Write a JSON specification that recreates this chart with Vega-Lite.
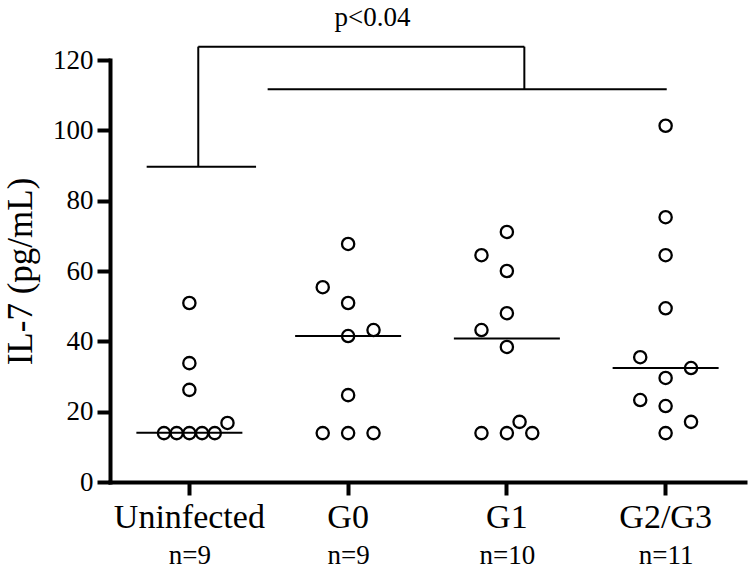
{
  "$schema": "https://vega.github.io/schema/vega-lite/v6.json",
  "width": 635,
  "height": 422,
  "autosize": "none",
  "padding": {"left": 110, "top": 60, "right": 5, "bottom": 87},
  "background": "white",
  "config": {
    "view": {"stroke": null},
    "font": "Liberation Serif",
    "axis": {"grid": false, "labelColor": "black", "titleColor": "black", "domainColor": "black", "tickColor": "black", "labelFont": "Liberation Serif", "titleFont": "Liberation Serif"}
  },
  "datasets": {
    "points": [
      {"group": "Uninfected", "value": 13.9, "slot": -2},
      {"group": "Uninfected", "value": 13.9, "slot": -1},
      {"group": "Uninfected", "value": 13.9, "slot": 0},
      {"group": "Uninfected", "value": 13.9, "slot": 1},
      {"group": "Uninfected", "value": 13.9, "slot": 2},
      {"group": "Uninfected", "value": 16.8, "slot": 3},
      {"group": "Uninfected", "value": 26.2, "slot": 0},
      {"group": "Uninfected", "value": 33.8, "slot": 0},
      {"group": "Uninfected", "value": 50.9, "slot": 0},
      {"group": "G0", "value": 67.7, "slot": 0},
      {"group": "G0", "value": 55.4, "slot": -2},
      {"group": "G0", "value": 50.9, "slot": 0},
      {"group": "G0", "value": 41.5, "slot": 0},
      {"group": "G0", "value": 43.2, "slot": 2},
      {"group": "G0", "value": 24.7, "slot": 0},
      {"group": "G0", "value": 13.9, "slot": -2},
      {"group": "G0", "value": 13.9, "slot": 0},
      {"group": "G0", "value": 13.9, "slot": 2},
      {"group": "G1", "value": 71.1, "slot": 0},
      {"group": "G1", "value": 64.5, "slot": -2},
      {"group": "G1", "value": 60.0, "slot": 0},
      {"group": "G1", "value": 48.0, "slot": 0},
      {"group": "G1", "value": 43.2, "slot": -2},
      {"group": "G1", "value": 38.4, "slot": 0},
      {"group": "G1", "value": 13.9, "slot": -2},
      {"group": "G1", "value": 13.9, "slot": 0},
      {"group": "G1", "value": 13.9, "slot": 2},
      {"group": "G1", "value": 17.1, "slot": 1},
      {"group": "G2/G3", "value": 101.3, "slot": 0},
      {"group": "G2/G3", "value": 75.3, "slot": 0},
      {"group": "G2/G3", "value": 64.5, "slot": 0},
      {"group": "G2/G3", "value": 49.4, "slot": 0},
      {"group": "G2/G3", "value": 35.5, "slot": -2},
      {"group": "G2/G3", "value": 32.4, "slot": 2},
      {"group": "G2/G3", "value": 29.6, "slot": 0},
      {"group": "G2/G3", "value": 23.3, "slot": -2},
      {"group": "G2/G3", "value": 21.6, "slot": 0},
      {"group": "G2/G3", "value": 17.1, "slot": 2},
      {"group": "G2/G3", "value": 13.9, "slot": 0}
    ],
    "medians": [
      {"group": "Uninfected", "median": 14.0},
      {"group": "G0", "median": 41.5},
      {"group": "G1", "median": 40.8},
      {"group": "G2/G3", "median": 32.4}
    ],
    "bracket": [
      {"x1": -0.269, "x2": 0.420, "y1": 89.65, "y2": 89.65},
      {"x1": 0.056, "x2": 0.056, "y1": 89.65, "y2": 123.8},
      {"x1": 0.056, "x2": 2.110, "y1": 123.8, "y2": 123.8},
      {"x1": 2.110, "x2": 2.110, "y1": 111.7, "y2": 123.8},
      {"x1": 0.493, "x2": 3.007, "y1": 111.7, "y2": 111.7}
    ],
    "label": [
      {"x": 1.153, "y": 129.7, "text": "p<0.04"}
    ]
  },
  "layer": [
    {
      "layer": [
        {
          "data": {"name": "medians"},
          "mark": {"type": "tick", "orient": "horizontal", "size": 106, "thickness": 2, "color": "black", "opacity": 1},
          "encoding": {
            "x": {
              "field": "group", "type": "nominal",
              "sort": ["Uninfected", "G0", "G1", "G2/G3"],
              "scale": {"domain": ["Uninfected", "G0", "G1", "G2/G3"], "paddingInner": 0, "paddingOuter": 0},
              "axis": {"title": null, "orient": "bottom", "labelAngle": 0, "labelFont": "Liberation Serif", "labelFontSize": 34, "labelPadding": 5, "tickSize": 13, "tickWidth": 4, "domainWidth": 4, "domainCap": "square"}
            },
            "y": {
              "field": "median", "type": "quantitative",
              "scale": {"domain": [0, 120], "nice": false},
              "axis": {"title": "IL-7 (pg/mL)", "values": [0, 20, 40, 60, 80, 100, 120], "labelFont": "Liberation Serif", "labelFontSize": 27, "labelPadding": 4, "tickSize": 13, "tickWidth": 4, "domainWidth": 4, "domainCap": "square", "titleFont": "Liberation Serif", "titleFontSize": 35, "titleFontWeight": "normal", "titlePadding": 14}
            }
          }
        },
        {
          "data": {"name": "points"},
          "mark": {"type": "point", "shape": "circle", "filled": false, "size": 150, "strokeWidth": 2.3, "color": "black", "opacity": 1},
          "encoding": {
            "x": {"field": "group", "type": "nominal", "sort": ["Uninfected", "G0", "G1", "G2/G3"]},
            "xOffset": {"field": "slot", "type": "quantitative", "scale": {"domain": [-6.25, 6.25]}},
            "y": {"field": "value", "type": "quantitative"}
          }
        }
      ]
    },
    {
      "layer": [
        {
          "data": {"name": "bracket"},
          "mark": {"type": "rule", "strokeWidth": 2, "color": "black"},
          "encoding": {
            "x": {
              "field": "x1", "type": "quantitative",
              "scale": {"domain": [-0.5, 3.5], "nice": false, "zero": false},
              "axis": {"title": null, "orient": "bottom", "values": [0, 1, 2, 3], "labelExpr": "datum.value == 0 ? 'n=9' : datum.value == 1 ? 'n=9' : datum.value == 2 ? 'n=10' : 'n=11'", "domain": false, "ticks": false, "labelFont": "Liberation Serif", "labelFontSize": 27, "labelPadding": 60, "labelFlush": false, "labelOverlap": false}
            },
            "x2": {"field": "x2"},
            "y": {"field": "y1", "type": "quantitative"},
            "y2": {"field": "y2"}
          }
        },
        {
          "data": {"name": "label"},
          "mark": {"type": "text", "fontSize": 27, "baseline": "alphabetic", "align": "center", "font": "Liberation Serif", "color": "black"},
          "encoding": {
            "x": {"field": "x", "type": "quantitative"},
            "y": {"field": "y", "type": "quantitative"},
            "text": {"field": "text"}
          }
        }
      ]
    }
  ],
  "resolve": {"scale": {"x": "independent"}}
}
